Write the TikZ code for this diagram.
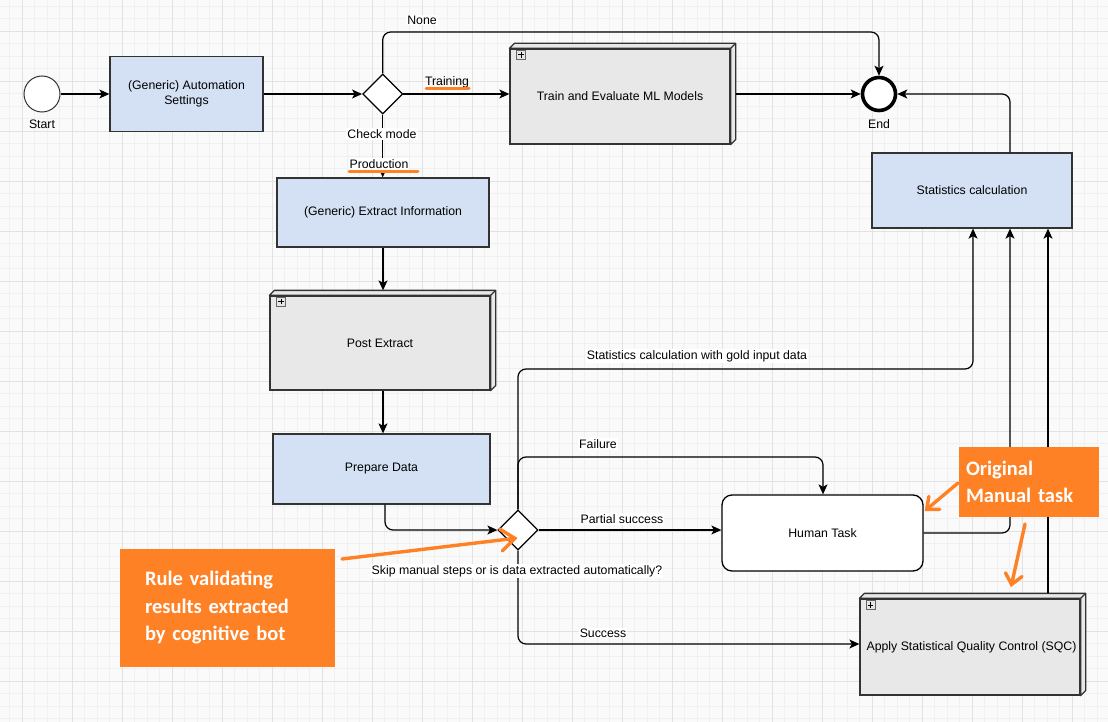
\documentclass[tikz,border=0pt]{standalone}
\usepackage{fontspec}
\setmainfont{Liberation Sans}
\newfontfamily\calloutfont{Carlito}
\usetikzlibrary{shapes.geometric,arrows.meta}
\definecolor{bluefill}{HTML}{D4E1F5}
\definecolor{grayfill}{HTML}{E8E8E8}
\definecolor{orng}{HTML}{FF8126}
\definecolor{gridminor}{HTML}{F0F0F0}
\definecolor{gridmajor}{HTML}{E2E2E2}
\definecolor{bgcol}{HTML}{FAFAFA}
\definecolor{edgecol}{HTML}{333333}
\begin{document}
\begin{tikzpicture}[x=1pt,y=-1pt,
  font=\fontsize{12.3}{14.5}\selectfont,
  bluetask/.style={draw=edgecol,line width=1.3pt,fill=bluefill,inner sep=0pt,align=center},
  subproc/.style={draw=edgecol,line width=1.3pt,fill=grayfill,inner sep=0pt,align=center},
  side3d/.style={draw=edgecol,line width=1.3pt,fill=grayfill,line join=round},
  humantask/.style={draw=black,line width=1.3pt,fill=white,rounded corners=10pt,inner sep=0pt,align=center},
  gateway/.style={diamond,draw=black,line width=1.3pt,fill=white,minimum width=40pt,minimum height=40pt,inner sep=0pt},
  flow/.style={draw=black,line width=1.2pt,rounded corners=8pt,-{Stealth[length=10pt,width=9pt,inset=2.5pt]}},
  lbl/.style={fill=white,inner sep=1pt},
  plusbox/.style={draw=gray!80!black,fill=gray!20,line width=0.6pt,minimum size=9pt,inner sep=0pt,
    path picture={\draw[line width=1pt,black] ([xshift=1.8pt]path picture bounding box.west) -- ([xshift=-1.8pt]path picture bounding box.east)
      ([yshift=-1.8pt]path picture bounding box.north) -- ([yshift=1.8pt]path picture bounding box.south);}},
  callout/.style={fill=orng,text=white,inner sep=0pt,align=left,
    font=\calloutfont\bfseries\fontsize{20.5}{27.5}\selectfont},
  oarrow/.style={draw=orng,line width=3.4pt,line cap=round,line join=round},
  uline/.style={draw=orng,line width=3pt,line cap=round}
]
\useasboundingbox (0,0) rectangle (1108,722);
% background and grid
\fill[bgcol] (0,0) rectangle (1108,722);
\begin{scope}
\clip (0,0) rectangle (1108,722);
\foreach \i in {0,...,88} {\draw[gridminor,line width=0.7pt] ({9.8+12.5*\i},0) -- ++(0,722);}
\foreach \i in {0,...,57} {\draw[gridminor,line width=0.7pt] (0,{6.3+12.5*\i}) -- ++(1108,0);}
\foreach \i in {0,...,21} {\draw[gridmajor,line width=0.9pt] ({22.3+50*\i},0) -- ++(0,722);}
\foreach \i in {0,...,13} {\draw[gridmajor,line width=0.9pt] (0,{31.3+50*\i}) -- ++(1108,0);}
\end{scope}

% nodes
\node[circle,draw=edgecol,line width=1pt,fill=white,minimum size=36pt,inner sep=0pt] (start) at (42,94) {};
\node (startlbl) at (42,124) {Start};
\node[bluetask,minimum width=153pt,minimum height=75pt] (settings) at (186.5,94) {(Generic) Automation\\Settings};
\node[gateway] (gw1) at (382.7,94) {};
\node[subproc,minimum width=220pt,minimum height=95pt] (train) at (620,96.5) {Train and Evaluate ML Models};
\node[circle,draw=black,line width=3.6pt,fill=white,minimum size=33pt,inner sep=0pt] (end) at (879,94) {};
\node (endlbl) at (879,124) {End};
\node[bluetask,minimum width=200pt,minimum height=75pt] (stats) at (972,190.5) {Statistics calculation};
\node[bluetask,minimum width=212pt,minimum height=69pt] (extract) at (383,212.5) {(Generic) Extract Information};
\node[subproc,minimum width=220pt,minimum height=94pt] (post) at (380,343) {Post Extract};
\node[bluetask,minimum width=217pt,minimum height=70pt] (prepare) at (381.5,469) {Prepare Data};
\node[gateway] (gw2) at (518,530) {};
\node[humantask,minimum width=201pt,minimum height=76pt] (human) at (822.5,533) {Human Task};
\node[subproc,minimum width=220pt,minimum height=96pt] (sqc) at (970,647) {\hspace*{3pt}Apply Statistical Quality Control (SQC)};

% 3D sides of the sub-process boxes
\foreach \b in {train,post,sqc} {
  \draw[side3d] (\b.north west) -- ++(5,-5) -- ([shift={(5,-5)}]\b.north east) -- ([shift={(5,-5)}]\b.south east)
     -- (\b.south east) -- (\b.north east) -- cycle;
  \draw[side3d] (\b.north east) -- ++(5,-5);
}
\node[plusbox] (trainplus) at ([shift={(11.7,6.5)}]train.north west) {};
\node[plusbox] (postplus) at ([shift={(11.7,6.3)}]post.north west) {};
\node[plusbox] (sqcplus) at ([shift={(11.4,6.8)}]sqc.north west) {};

% helper coordinates
\coordinate (nonec) at (879,32);
\coordinate (tre) at ([xshift=5pt]train.east);
\coordinate (s1) at ([xshift=38pt]stats.north);
\coordinate (s1b) at ([xshift=38pt]stats.south);
\coordinate (posttop) at ([yshift=5pt]post.north);
\coordinate (pd) at ([xshift=3.5pt]prepare.south);
\coordinate (fc) at (823,457);
\coordinate (gc) at (973,369);
\coordinate (sqcin) at ([yshift=3pt]sqc.west);
\coordinate (sqcout) at ([shift={(78,-5)}]sqc.north);

% connectors
\draw[flow] (start) -- (settings);
\draw[flow] (settings) -- (gw1);
\draw[flow] (gw1.east) -- (gw1.east -| train.west);
\draw[flow] (gw1.north) |- (nonec) -- (end.north);
\draw[flow] (tre |- end) -- (end.west);
\draw[flow] (s1) |- (end.east);
\draw[flow] (gw1.south) -- (gw1.south |- extract.north);
\draw[flow] (extract.south) -- (extract.south |- posttop);
\draw[flow] (post.south -| extract.south) -- (prepare.north -| extract.south);
\draw[flow] (pd) |- (gw2.west);
\draw[flow] (gw2.north) |- (fc) -- (fc |- human.north);
\draw[flow] (gw2.north) |- (gc) -- (gc |- stats.south);
\draw[flow] (gw2.east) -- (gw2.east -| human.west);
\draw[flow] (gw2.south) |- (sqcin);
\draw[flow] (human.east) -| (s1b);
\draw[flow] (sqcout) -- (sqcout |- stats.south);

% connector labels
\node[lbl] (lnone) at (422,20) {None};
\node (ltrain) at (447,82) {Training};
\node[lbl] (lcheck) at (382,134) {Check mode};
\node[lbl] (lprod) at (379,164) {Production};
\node[lbl] (lgold) at (697,356) {Statistics calculation with gold input data};
\node[lbl] (lfail) at (598,444) {Failure};
\node[lbl] (lpartial) at (622,519) {Partial success};
\node[lbl] (lskip) at (517,571) {Skip manual steps or is data extracted automatically?};
\node[lbl] (lsuccess) at (603,633) {Success};

% orange underlines
\draw[uline] (426,89) -- (469,89);
\draw[uline] (349,172) -- (418,172);

% callouts
\node[callout,minimum width=215pt,minimum height=118pt,text width=165pt] (c1) at (227.5,608)
  {Rule validating\\results extracted\\by cognitive bot};
\node[callout,minimum width=140pt,minimum height=70pt,text width=126pt] (c2) at (1029,482)
  {Original\\Manual task};

\coordinate (a1s) at (342,559);
\coordinate (a2s) at (958,483);
\coordinate (a3s) at (1025,524);
\draw[oarrow,-{Straight Barb[length=14pt,width=22pt,line cap=round]}] (a1s) -- ([shift={(-21,8)}]gw2.east);
\draw[oarrow,-{Straight Barb[length=10pt,width=17pt,line cap=round]}] (a2s) -- ([shift={(1,-22)}]human.east);
\draw[oarrow,-{Straight Barb[length=10pt,width=17pt,line cap=round]}] (a3s) -- (1011,587);
\end{tikzpicture}
\end{document}
